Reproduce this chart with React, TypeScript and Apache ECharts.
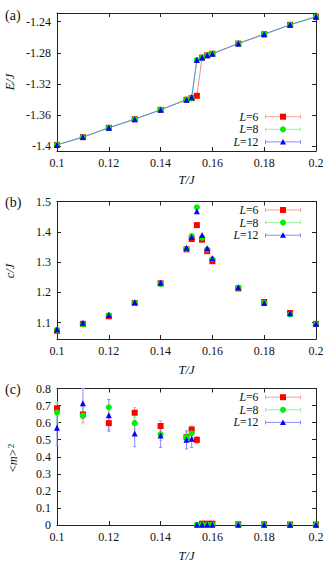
import React, { useEffect, useRef } from 'react';
import * as echarts from 'echarts';

// ---------- data ----------
const temperatures = [0.1, 0.11, 0.12, 0.13, 0.14, 0.15, 0.152, 0.154, 0.156, 0.158, 0.16, 0.17, 0.18, 0.19, 0.2];
const sizeLabels = ['6', '8', '12'];

const energyL6 = [-1.398, -1.388, -1.376, -1.365, -1.353, -1.340, -1.338, -1.335, -1.286, -1.283, -1.281, -1.268, -1.256, -1.244, -1.2335];
const energyL8 = [-1.398, -1.388, -1.376, -1.365, -1.353, -1.340, -1.338, -1.289, -1.286, -1.283, -1.281, -1.268, -1.256, -1.244, -1.2335];
const energyL12 = [-1.398, -1.388, -1.376, -1.365, -1.353, -1.340, -1.337, -1.289, -1.286, -1.283, -1.281, -1.268, -1.256, -1.244, -1.2335];

const heatL6 = [1.073, 1.096, 1.121, 1.165, 1.230, 1.342, 1.376, 1.422, 1.374, 1.336, 1.303, 1.213, 1.168, 1.132, 1.096];
const heatL8 = [1.076, 1.094, 1.125, 1.165, 1.227, 1.344, 1.386, 1.481, 1.380, 1.342, 1.310, 1.215, 1.165, 1.127, 1.096];
const heatL12 = [1.078, 1.100, 1.125, 1.167, 1.232, 1.347, 1.383, 1.468, 1.389, 1.346, 1.313, 1.217, 1.165, 1.131, 1.096];

const magL6 = [0.684, 0.648, 0.597, 0.658, 0.580, 0.515, 0.560, 0.499, 0.008, 0.008, 0.008, 0.004, 0.004, 0.003, 0.003];
const magL8 = [0.660, 0.643, 0.690, 0.597, 0.532, 0.515, 0.537, 0.002, 0.002, 0.002, 0.002, 0.002, 0.002, 0.002, 0.002];
const magL12 = [0.570, 0.713, 0.643, 0.536, 0.525, 0.499, 0.505, 0.001, 0.001, 0.001, 0.001, 0.001, 0.001, 0.001, 0.001];
const magErrL6 = [0.03, 0.045, 0.04, 0.03, 0.03, 0.02, 0.02, 0.02, 0.008, 0.008, 0.008, 0.002, 0.002, 0.002, 0.002];
const magErrL8 = [0.06, 0.05, 0.045, 0.04, 0.035, 0.03, 0.03, 0.002, 0.002, 0.002, 0.002, 0.002, 0.002, 0.002, 0.002];
const magErrL12 = [0.105, 0.09, 0.093, 0.077, 0.07, 0.053, 0.05, 0.001, 0.001, 0.001, 0.001, 0.001, 0.001, 0.001, 0.001];

const xTicks = [0.1, 0.12, 0.14, 0.16, 0.18, 0.2];
const energyTicks = [-1.4, -1.36, -1.32, -1.28, -1.24];
const heatTicks = [1.1, 1.2, 1.3, 1.4, 1.5];
const magTicks = [0, 0.1, 0.2, 0.3, 0.4, 0.5, 0.6, 0.7, 0.8];

// ---------- styles ----------
const FONT = "'Liberation Serif', 'Times New Roman', serif";
const AXIS = '#222';
const MARKER_COLORS = ['#ff0000', '#00f000', '#0000ff'];
const LINE_COLORS = ['#f48c8c', '#8cef8c', '#6a88e0'];
const BAR_COLORS = ['#ff9c9c', '#9cf09c', '#8a8aff'];
const SYMBOLS = ['rect', 'circle', 'triangle'];
const SYMBOL_SIZES = [6, 6, 6];

const GRIDS = [
  { left: 57, right: 19, top: 13, height: 138 },
  { left: 57, right: 19, top: 201.5, height: 137.5 },
  { left: 57, right: 19, top: 388.5, height: 136.5 },
];
const Y_RANGES = [
  [-1.4058, -1.2288],
  [1.046, 1.5],
  [0, 0.8],
];
const Y_TICKS = [energyTicks, heatTicks, magTicks];
const LEGEND_ROWS = [
  [116.7, 129.3, 141.9],
  [210, 222.6, 235.2],
  [397.2, 409.8, 422.4],
];

const fmt = (v: number) => String(+Number(v).toFixed(3));

function xAxis(gi: number, pos: 'bottom' | 'top') {
  return {
    type: 'value',
    gridIndex: gi,
    position: pos,
    min: 0.1,
    max: 0.2,
    interval: 0.02,
    axisLine: { show: true, onZero: false, lineStyle: { color: AXIS, width: 1 } },
    axisTick: { show: true, inside: true, length: 4, lineStyle: { color: AXIS }, customValues: xTicks },
    axisLabel: {
      show: pos === 'bottom',
      customValues: xTicks,
      formatter: fmt,
      fontFamily: FONT,
      fontSize: 12,
      color: '#111',
      margin: 6,
    },
    splitLine: { show: false },
  };
}

function yAxis(gi: number, pos: 'left' | 'right') {
  return {
    type: 'value',
    gridIndex: gi,
    position: pos,
    min: Y_RANGES[gi][0],
    max: Y_RANGES[gi][1],
    axisLine: { show: true, onZero: false, lineStyle: { color: AXIS, width: 1 } },
    axisTick: { show: true, inside: true, length: 4, lineStyle: { color: AXIS }, customValues: Y_TICKS[gi] },
    axisLabel: {
      show: pos === 'left',
      customValues: Y_TICKS[gi],
      formatter: fmt,
      fontFamily: FONT,
      fontSize: 12,
      color: '#111',
      margin: 6,
    },
    splitLine: { show: false },
  };
}

function pairs(vals: number[]) {
  return temperatures.map((t, i) => [t, vals[i]]);
}

function markerSeries(gi: number, k: number, vals: number[], withLine: boolean) {
  return {
    type: withLine ? 'line' : 'scatter',
    name: 'L=' + sizeLabels[k] + '_' + gi,
    xAxisIndex: 2 * gi,
    yAxisIndex: 2 * gi,
    data: pairs(vals),
    symbol: SYMBOLS[k],
    symbolSize: SYMBOL_SIZES[k],
    showSymbol: true,
    clip: false,
    silent: true,
    itemStyle: { color: MARKER_COLORS[k], opacity: 1 },
    lineStyle: { color: LINE_COLORS[k], width: 1 },
    emphasis: { disabled: true },
  };
}

function errorSeries(gi: number, k: number, vals: number[], errs: number[]) {
  return {
    type: 'custom',
    xAxisIndex: 2 * gi,
    yAxisIndex: 2 * gi,
    silent: true,
    clip: false,
    data: temperatures.map((t, i) => [t, vals[i], errs[i]]),
    encode: { x: 0, y: 1 },
    renderItem: (params: any, api: any) => {
      const x = api.value(0);
      const y = api.value(1);
      const e = api.value(2);
      const top = api.coord([x, Math.min(y + e, 0.8)]);
      const bot = api.coord([x, y - e]);
      const w = 1.6;
      const style = { stroke: BAR_COLORS[k], lineWidth: 1 };
      return {
        type: 'group',
        children: [
          { type: 'line', shape: { x1: top[0], y1: top[1], x2: bot[0], y2: bot[1] }, style },
          { type: 'line', shape: { x1: top[0] - w, y1: top[1], x2: top[0] + w, y2: top[1] }, style },
          { type: 'line', shape: { x1: bot[0] - w, y1: bot[1], x2: bot[0] + w, y2: bot[1] }, style },
        ],
      };
    },
  };
}

function legendElements(rows: number[]) {
  const els: any[] = [];
  const textRight = 258.5;
  const x1 = 265.5;
  const x2 = 300.5;
  const mx = 283;
  rows.forEach((ry, k) => {
    els.push({
      type: 'text',
      x: textRight,
      y: ry,
      silent: true,
      style: {
        text: '{i|L}{n|=' + sizeLabels[k] + '}',
        align: 'right',
        verticalAlign: 'middle',
        fill: '#111',
        font: '11.8px ' + FONT,
        lineHeight: 10,
        rich: {
          i: { fontStyle: 'italic', fontFamily: FONT, fontSize: 11.8, fill: '#111', lineHeight: 10 },
          n: { fontFamily: FONT, fontSize: 11.8, fill: '#111', lineHeight: 10 },
        },
      },
    });
    const ls = { stroke: BAR_COLORS[k], lineWidth: 1 };
    els.push({ type: 'line', silent: true, shape: { x1, y1: ry, x2, y2: ry }, style: ls });
    els.push({ type: 'line', silent: true, shape: { x1, y1: ry - 2, x2: x1, y2: ry + 2 }, style: ls });
    els.push({ type: 'line', silent: true, shape: { x1: x2, y1: ry - 2, x2, y2: ry + 2 }, style: ls });
    const fill = { fill: MARKER_COLORS[k] };
    if (k === 0) {
      els.push({ type: 'rect', silent: true, shape: { x: mx - 3, y: ry - 3, width: 6, height: 6 }, style: fill });
    } else if (k === 1) {
      els.push({ type: 'circle', silent: true, shape: { cx: mx, cy: ry, r: 3 }, style: fill });
    } else {
      els.push({
        type: 'polygon',
        silent: true,
        shape: { points: [[mx, ry - 3], [mx + 3, ry + 2.5], [mx - 3, ry + 2.5]] },
        style: fill,
      });
    }
  });
  return els;
}

function plainText(text: string, x: number, y: number, size: number, italic: boolean, align = 'center') {
  return {
    type: 'text',
    x,
    y,
    silent: true,
    style: {
      text,
      align,
      verticalAlign: 'middle',
      fill: '#111',
      font: (italic ? 'italic ' : '') + size + 'px ' + FONT,
    },
  };
}

function rotatedTitle(text: string, rich: any, x: number, y: number) {
  return {
    type: 'text',
    x,
    y,
    rotation: Math.PI / 2,
    silent: true,
    style: {
      text,
      rich,
      align: 'center',
      verticalAlign: 'middle',
      fill: '#111',
      font: '12px ' + FONT,
    },
  };
}

export default function App() {
  const ref = useRef<HTMLDivElement>(null);

  useEffect(() => {
    if (!ref.current) return;
    const chart = echarts.init(ref.current, null, { renderer: 'svg' });

    const italicRich = {
      i: { fontStyle: 'italic', fontFamily: FONT, fontSize: 12.5, fill: '#111' },
      n: { fontFamily: FONT, fontSize: 12.5, fill: '#111' },
      s: { fontFamily: FONT, fontSize: 9, fill: '#111', verticalAlign: 'top', padding: [0, 0, 0, 1] },
    };

    const graphic: any[] = [
      plainText('(a)', 5, 15, 14, false, 'left'),
      plainText('(b)', 5, 202, 14, false, 'left'),
      plainText('(c)', 5, 389, 14, false, 'left'),
      plainText('T/J', 186.5, 180, 12.5, true),
      plainText('T/J', 186.5, 370, 12.5, true),
      plainText('T/J', 186.5, 556, 12.5, true),
      rotatedTitle('{i|E/J}', italicRich, 10, 82),
      rotatedTitle('{i|c/J}', italicRich, 10, 271),
      rotatedTitle('{n|<}{i|m}{n|>}{s|2}', italicRich, 13, 458),
      ...legendElements(LEGEND_ROWS[0]),
      ...legendElements(LEGEND_ROWS[1]),
      ...legendElements(LEGEND_ROWS[2]),
    ];

    const option: any = {
      animation: false,
      backgroundColor: '#ffffff',
      grid: GRIDS,
      xAxis: [0, 1, 2].flatMap((g) => [xAxis(g, 'bottom'), xAxis(g, 'top')]),
      yAxis: [0, 1, 2].flatMap((g) => [yAxis(g, 'left'), yAxis(g, 'right')]),
      graphic,
      series: [
        markerSeries(0, 0, energyL6, true),
        markerSeries(0, 1, energyL8, true),
        markerSeries(0, 2, energyL12, true),
        markerSeries(1, 0, heatL6, false),
        markerSeries(1, 1, heatL8, false),
        markerSeries(1, 2, heatL12, false),
        errorSeries(2, 0, magL6, magErrL6),
        markerSeries(2, 0, magL6, false),
        errorSeries(2, 1, magL8, magErrL8),
        markerSeries(2, 1, magL8, false),
        errorSeries(2, 2, magL12, magErrL12),
        markerSeries(2, 2, magL12, false),
      ],
    };

    chart.setOption(option);
    return () => chart.dispose();
  }, []);

  return (
    <div
      ref={ref}
      style={{ position: 'fixed', left: 0, top: 0, width: 335, height: 562, background: '#fff' }}
    />
  );
}
